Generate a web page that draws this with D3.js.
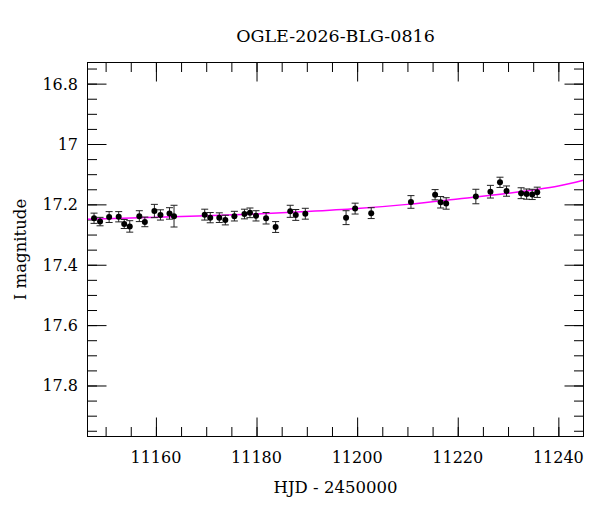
<!DOCTYPE html>
<html>
<head>
<meta charset="utf-8">
<script src="https://cdn.jsdelivr.net/npm/d3@7"></script>
<style>
  body { margin: 0; background: #fff; }
  svg text { font-family: "DejaVu Serif", serif; fill: #000; }
</style>
</head>
<body>
<div id="wrapper"></div>
<script>
// observations (HJD - 2450000, I mag, error)
const hjd = [11147.7, 11148.9, 11150.7, 11152.6, 11153.7, 11154.8, 11156.7, 11157.8, 11159.7, 11160.9,
             11162.7, 11163.6, 11169.7, 11170.8, 11172.6, 11173.8, 11175.6, 11177.6, 11178.7, 11179.9,
             11181.9, 11183.8, 11186.7, 11187.8, 11189.7, 11197.8, 11199.6, 11202.8, 11210.7, 11215.5,
             11216.6, 11217.7, 11223.6, 11226.5, 11228.4, 11229.7, 11232.6, 11233.7, 11234.8, 11235.8];
const mag = [17.246, 17.257, 17.242, 17.241, 17.265, 17.273, 17.239, 17.258, 17.222, 17.235,
             17.230, 17.239, 17.234, 17.244, 17.244, 17.252, 17.239, 17.232, 17.228, 17.238,
             17.246, 17.275, 17.223, 17.235, 17.231, 17.244, 17.214, 17.229, 17.192, 17.168,
             17.193, 17.197, 17.174, 17.158, 17.127, 17.156, 17.163, 17.166, 17.167, 17.160];
const err = [0.017, 0.014, 0.018, 0.017, 0.015, 0.019, 0.018, 0.016, 0.022, 0.017,
             0.019, 0.036, 0.018, 0.017, 0.016, 0.016, 0.016, 0.016, 0.016, 0.017,
             0.019, 0.018, 0.020, 0.018, 0.018, 0.023, 0.018, 0.018, 0.021, 0.017,
             0.019, 0.019, 0.024, 0.021, 0.017, 0.017, 0.018, 0.017, 0.017, 0.017];

// model curve
const modelT = [11146.4, 11160, 11170, 11180, 11190, 11200, 11210, 11220, 11230, 11236, 11240, 11245];
const modelMag = [17.249, 17.243, 17.238, 17.232, 17.224, 17.214, 17.200, 17.182, 17.163, 17.150, 17.139, 17.120];

const xTicks = [11160, 11180, 11200, 11220, 11240];
const yTicks = [16.8, 17, 17.2, 17.4, 17.6, 17.8];

const W = 600, H = 512;
const m = { left: 87.5, right: 583.5, top: 62.5, bottom: 436.5 };

const x = d3.scaleLinear().domain([11146.4, 11245]).range([m.left, m.right]);
const y = d3.scaleLinear().domain([16.73, 17.969]).range([m.top, m.bottom]);

const svg = d3.select('#wrapper')
    .append('svg')
    .attr('width', W)
    .attr('height', H);

const xMinor = d3.range(11150, 11245, 5);
const yMinor = d3.range(16.75, 17.97, 0.05);

// ticks on all four sides, pointing inward
function drawTicks(g, axis) {
    g.call(axis);
    g.select('.domain').remove();
    g.selectAll('line').attr('stroke', '#000');
}

svg.append('g')
    .attr('transform', 'translate(0,' + m.bottom + ')')
    .call(drawTicks, d3.axisTop(x).tickValues(xMinor).tickSize(9.5).tickFormat(''));
svg.append('g')
    .attr('transform', 'translate(0,' + m.bottom + ')')
    .call(drawTicks, d3.axisTop(x).tickValues(xTicks).tickSize(19).tickFormat(''));
svg.append('g')
    .attr('transform', 'translate(0,' + m.top + ')')
    .call(drawTicks, d3.axisBottom(x).tickValues(xMinor).tickSize(9.5).tickFormat(''));
svg.append('g')
    .attr('transform', 'translate(0,' + m.top + ')')
    .call(drawTicks, d3.axisBottom(x).tickValues(xTicks).tickSize(19).tickFormat(''));

svg.append('g')
    .attr('transform', 'translate(' + m.left + ',0)')
    .call(drawTicks, d3.axisRight(y).tickValues(yMinor).tickSize(9.5).tickFormat(''));
svg.append('g')
    .attr('transform', 'translate(' + m.left + ',0)')
    .call(drawTicks, d3.axisRight(y).tickValues(yTicks).tickSize(19).tickFormat(''));
svg.append('g')
    .attr('transform', 'translate(' + m.right + ',0)')
    .call(drawTicks, d3.axisLeft(y).tickValues(yMinor).tickSize(9.5).tickFormat(''));
svg.append('g')
    .attr('transform', 'translate(' + m.right + ',0)')
    .call(drawTicks, d3.axisLeft(y).tickValues(yTicks).tickSize(19).tickFormat(''));

// tick labels
svg.append('g').selectAll('text')
    .data(xTicks)
    .enter()
    .append('text')
    .attr('x', d => x(d))
    .attr('y', 463)
    .attr('text-anchor', 'middle')
    .style('font-size', '16px')
    .text(d => d);

svg.append('g').selectAll('text')
    .data(yTicks)
    .enter()
    .append('text')
    .attr('x', 78)
    .attr('y', d => y(d) + 6)
    .attr('text-anchor', 'end')
    .style('font-size', '16px')
    .text(d => d);

// model
const line = d3.line()
    .x(function (d) { return x(d[0]) })
    .y(function (d) { return y(d[1]) })
    .curve(d3.curveMonotoneX);

svg.append('clipPath').attr('id', 'clip')
    .append('rect')
    .attr('x', m.left).attr('y', m.top)
    .attr('width', m.right - m.left).attr('height', m.bottom - m.top);

svg.append('path')
    .datum(modelT.map((t, i) => [t, modelMag[i]]))
    .attr('clip-path', 'url(#clip)')
    .attr('d', line)
    .attr('fill', 'none')
    .attr('stroke', '#ff00ff')
    .attr('stroke-width', 1.5);

// data points with error bars
const pts = hjd.map((t, i) => ({ t: t, m: mag[i], e: err[i] }));
const pg = svg.append('g').selectAll('g')
    .data(pts)
    .enter()
    .append('g');

pg.append('line')
    .attr('x1', d => x(d.t)).attr('x2', d => x(d.t))
    .attr('y1', d => y(d.m - d.e)).attr('y2', d => y(d.m + d.e))
    .attr('stroke', '#222').attr('stroke-width', 1);
pg.append('line')
    .attr('x1', d => x(d.t) - 3.5).attr('x2', d => x(d.t) + 3.5)
    .attr('y1', d => y(d.m - d.e)).attr('y2', d => y(d.m - d.e))
    .attr('stroke', '#222').attr('stroke-width', 1);
pg.append('line')
    .attr('x1', d => x(d.t) - 3.5).attr('x2', d => x(d.t) + 3.5)
    .attr('y1', d => y(d.m + d.e)).attr('y2', d => y(d.m + d.e))
    .attr('stroke', '#222').attr('stroke-width', 1);
pg.append('circle')
    .attr('cx', d => x(d.t))
    .attr('cy', d => y(d.m))
    .attr('r', 3)
    .style('fill', '#000');

// frame
svg.append('rect')
    .attr('x', m.left).attr('y', m.top)
    .attr('width', m.right - m.left).attr('height', m.bottom - m.top)
    .attr('fill', 'none')
    .attr('stroke', '#000')
    .attr('stroke-width', 1);

// titles
svg.append('text')
    .attr('x', (m.left + m.right) / 2)
    .attr('y', 42)
    .attr('text-anchor', 'middle')
    .style('font-size', '17.5px')
    .text('OGLE-2026-BLG-0816');

svg.append('text')
    .attr('x', (m.left + m.right) / 2)
    .attr('y', 493)
    .attr('text-anchor', 'middle')
    .style('font-size', '16.5px')
    .text('HJD - 2450000');

svg.append('text')
    .attr('transform', 'translate(26,' + (m.top + m.bottom) / 2 + ') rotate(-90)')
    .attr('text-anchor', 'middle')
    .style('font-size', '16.5px')
    .text('I magnitude');
</script>
</body>
</html>
